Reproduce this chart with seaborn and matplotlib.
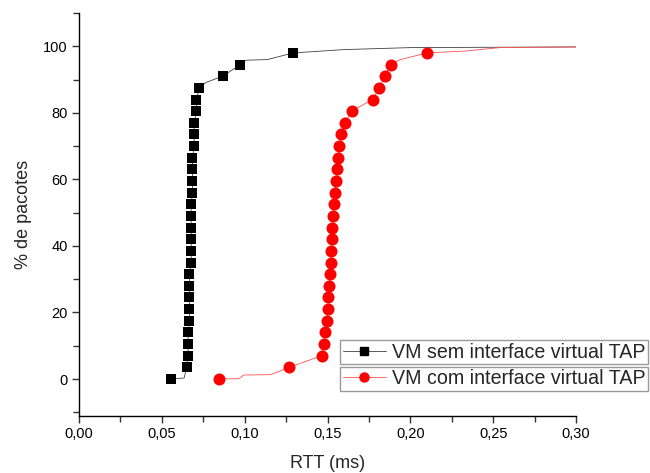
import numpy as np
import pandas as pd
import matplotlib
matplotlib.use("Agg")
import matplotlib.pyplot as plt
from matplotlib.lines import Line2D
from matplotlib.ticker import MultipleLocator, FuncFormatter
import seaborn as sns

# ---- data ----
pct_marks = [0, 3.5, 7, 10.5, 14, 17.5, 21, 24.5, 28, 31.5, 35, 38.5, 42, 45.5,
             49, 52.5, 56, 59.5, 63, 66.5, 70, 73.5, 77, 80.5, 84, 87.5, 91, 94.5, 98]

sem_rtt_marks = [0.0554, 0.0649, 0.0659, 0.0659, 0.0659, 0.0667, 0.0667, 0.0667,
                 0.0667, 0.0667, 0.0677, 0.0677, 0.0677, 0.0677, 0.0677, 0.0677,
                 0.0685, 0.0685, 0.0685, 0.0685, 0.0695, 0.0695, 0.0695, 0.0709,
                 0.0709, 0.0727, 0.0867, 0.0974, 0.1293]
com_rtt_marks = [0.0843, 0.1268, 0.1466, 0.1476, 0.1482, 0.1494, 0.1502, 0.1506,
                 0.1512, 0.1516, 0.1520, 0.1524, 0.1530, 0.1530, 0.1532, 0.1538,
                 0.1544, 0.1554, 0.1558, 0.1564, 0.1572, 0.1584, 0.1604, 0.1645,
                 0.1773, 0.1813, 0.1845, 0.1881, 0.2100]

# extra (unmarked) points of the CDF lines
sem_rtt_extra = [0.0635, 0.0765, 0.1006, 0.1137, 0.1600, 0.2000, 0.3000]
sem_pct_extra = [0.3, 89.1, 95.8, 96.0, 99.0, 99.6, 99.8]
com_rtt_extra = [0.0965, 0.0995, 0.1157, 0.1940, 0.2341, 0.2540, 0.3000]
com_pct_extra = [0.1, 1.2, 1.3, 96.0, 98.6, 99.6, 99.8]

labels = ["VM sem interface virtual TAP", "VM com interface virtual TAP"]
x_ticks = [0.00, 0.05, 0.10, 0.15, 0.20, 0.25, 0.30]
y_ticks = [0, 20, 40, 60, 80, 100]

# ---- build tables ----
def build(rtt_m, rtt_e, pct_e):
    df = pd.DataFrame({"rtt": list(rtt_m) + list(rtt_e),
                       "pct": list(pct_marks) + list(pct_e)})
    return df.sort_values(["pct", "rtt"]).reset_index(drop=True)

sem_line = build(sem_rtt_marks, sem_rtt_extra, sem_pct_extra)
com_line = build(com_rtt_marks, com_rtt_extra, com_pct_extra)
sem_mark = pd.DataFrame({"rtt": sem_rtt_marks, "pct": pct_marks})
com_mark = pd.DataFrame({"rtt": com_rtt_marks, "pct": pct_marks})

sns.set_theme(style="white")
plt.rcParams["font.family"] = ["Liberation Sans", "DejaVu Sans"]

fig = plt.figure(figsize=(6.5, 4.73), dpi=100)
ax = fig.add_axes([79 / 650, 1 - 415.6 / 473, (576 - 79) / 650, (415.6 - 13) / 473])

sns.lineplot(data=sem_line, x="rtt", y="pct", sort=False, estimator=None,
             color="#404040", linewidth=0.6, ax=ax)
sns.lineplot(data=com_line, x="rtt", y="pct", sort=False, estimator=None,
             color="#ff5050", linewidth=0.6, ax=ax)
sns.scatterplot(data=sem_mark, x="rtt", y="pct", marker="s", s=55,
                color="black", edgecolor="black", linewidth=0, ax=ax, zorder=3)
sns.scatterplot(data=com_mark, x="rtt", y="pct", marker="o", s=75,
                color="red", edgecolor="red", linewidth=0, ax=ax, zorder=3)

ax.set_xlim(0, 0.30)
ax.set_ylim(-11, 110)
ax.spines["top"].set_visible(False)
ax.spines["right"].set_visible(False)
for s in ("left", "bottom"):
    ax.spines[s].set_color("black")
    ax.spines[s].set_linewidth(1.0)

ax.set_xticks(x_ticks)
ax.set_yticks(y_ticks)
ax.xaxis.set_minor_locator(MultipleLocator(0.025))
ax.yaxis.set_minor_locator(MultipleLocator(10))
ax.xaxis.set_major_formatter(FuncFormatter(lambda v, p: f"{v:.2f}".replace(".", ",")))
ax.tick_params(axis="both", which="major", direction="out", length=5, width=1,
               color="#333333", labelsize=10.5, labelcolor="black", pad=3,
               bottom=True, left=True)
ax.tick_params(axis="both", which="minor", direction="out", length=4, width=1,
               color="#333333", bottom=True, left=True)

ax.set_xlabel("RTT (ms)", fontsize=13, labelpad=10)
ax.set_ylabel("% de pacotes", fontsize=13, labelpad=8)

h1 = Line2D([], [], color="#404040", linewidth=0.6, marker="s", markersize=5.5,
            markerfacecolor="black", markeredgecolor="black")
h2 = Line2D([], [], color="#ff5050", linewidth=0.6, marker="o", markersize=6.5,
            markerfacecolor="red", markeredgecolor="red")
common = dict(fontsize=14.1, frameon=True, fancybox=False, handlelength=2.2,
              handletextpad=0.3, borderpad=0.14, borderaxespad=0,
              loc="upper right", bbox_transform=fig.transFigure)
leg1 = ax.legend(handles=[h1], labels=[labels[0]],
                 bbox_to_anchor=(648 / 650, 1 - 340 / 473), **common)
leg1.get_frame().set_edgecolor("#808080")
leg1.get_frame().set_linewidth(1.0)
ax.add_artist(leg1)
leg2 = ax.legend(handles=[h2], labels=[labels[1]],
                 bbox_to_anchor=(648 / 650, 1 - 366.5 / 473), **common)
leg2.get_frame().set_edgecolor("#808080")
leg2.get_frame().set_linewidth(1.0)

fig.savefig("out.png", dpi=100)
